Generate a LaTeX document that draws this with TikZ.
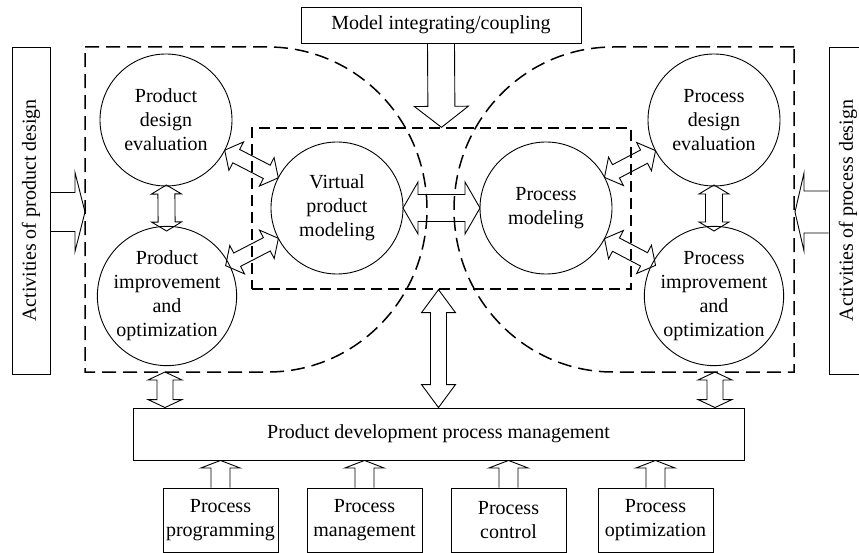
\documentclass[tikz,border=0pt]{standalone}
\usepackage{fontspec}
\setmainfont{Liberation Serif}
\usetikzlibrary{calc}
% fat double arrow: #1 tip A, #2 tip B, #3 shaft half width, #4 head half width, #5 head length
\newcommand{\fatdbl}[5]{%
 \draw[fatline] (#1)
  -- ($(#1)!#5!(#2)!#4!90:(#2)$)
  -- ($(#1)!#5!(#2)!#3!90:(#2)$)
  -- ($(#2)!#5!(#1)!#3!-90:(#1)$)
  -- ($(#2)!#5!(#1)!#4!-90:(#1)$)
  -- (#2)
  -- ($(#2)!#5!(#1)!#4!90:(#1)$)
  -- ($(#2)!#5!(#1)!#3!90:(#1)$)
  -- ($(#1)!#5!(#2)!#3!-90:(#2)$)
  -- ($(#1)!#5!(#2)!#4!-90:(#2)$)
  -- cycle;}
% fat single arrow: #1 base, #2 tip
\newcommand{\fatone}[5]{%
 \draw[fatline] ($(#1)!#3!90:(#2)$)
  -- ($(#2)!#5!(#1)!#3!-90:(#1)$)
  -- ($(#2)!#5!(#1)!#4!-90:(#1)$)
  -- (#2)
  -- ($(#2)!#5!(#1)!#4!90:(#1)$)
  -- ($(#2)!#5!(#1)!#3!90:(#1)$)
  -- ($(#1)!#3!-90:(#2)$);}
\tikzset{
 txt/.style={font=\fontsize{20pt}{24pt}\selectfont},
 boxn/.style={txt, draw, line width=0.9pt, inner sep=0pt, align=center},
 circn/.style={txt, draw, circle, line width=0.9pt, minimum size=132pt, inner sep=0pt, align=center},
 fatline/.style={draw, line width=0.9pt, line join=miter},
 outerdash/.style={line width=1.5pt, dash pattern=on 14pt off 7pt},
 innerdash/.style={draw, line width=1.3pt, dash pattern=on 11pt off 6pt}
}
\begin{document}
\begin{tikzpicture}[x=1pt, y=-1pt]
\useasboundingbox (0,0) rectangle (859,553);

% outer dashed regions
\draw[outerdash] (85,47) -- (268,47)
  .. controls (355.8,47) and (427,119.8) .. (427,209.5)
  .. controls (427,299.2) and (355.8,372) .. (268,372)
  -- (85,372) -- cycle;
\draw[outerdash] (794,47) -- (613,47)
  .. controls (525.2,47) and (454,119.8) .. (454,209.5)
  .. controls (454,299.2) and (525.2,372) .. (613,372)
  -- (794,372) -- cycle;

% inner dashed rectangle
\node[innerdash, minimum width=379pt, minimum height=161pt, inner sep=0pt] (inner) at (441.5,208.5) {};

% circles
\node[circn] (pde) at (166,120) {Product\\design\\evaluation};
\node[circn] (pim) at (167,296) {Product\\improvement\\and\\optimization};
\node[circn] (vpm) at (337,208) {Virtual\\product\\modeling};
\node[circn] (prm) at (546,208) {Process\\modeling};
\node[circn] (cde) at (714,120) {Process\\design\\evaluation};
\node[circn] (cim) at (714,296) {Process\\improvement\\and\\optimization};

% boxes
\node[boxn, minimum width=280pt, minimum height=36pt] (model) at (441,25) {Model integrating/coupling};
\node[boxn, minimum width=38pt, minimum height=327pt] (actl) at (31,210.5) {};
\node[txt, rotate=90, inner sep=0pt] (actltxt) at (actl) {Activities of product design};
\node[boxn, minimum width=38pt, minimum height=327pt] (actr) at (848,210.5) {};
\node[txt, rotate=90, inner sep=0pt] (actrtxt) at (actr) {Activities of process design};
\node[boxn, minimum width=611pt, minimum height=52pt] (pdm) at (438.5,434) {Product development process management};
\node[boxn, minimum width=115pt, minimum height=64pt] (pp) at (220.5,520) {Process\\programming};
\node[boxn, minimum width=115pt, minimum height=64pt] (pmg) at (364.5,520) {Process\\management};
\node[boxn, minimum width=115pt, minimum height=64pt] (pc) at (508.5,520) {Process\\control};
\node[boxn, minimum width=115pt, minimum height=64pt] (po) at (655.5,520) {Process\\optimization};

% connector end points
\coordinate (leftedge) at (85,212);
\coordinate (rightedge) at (795,212);
\coordinate (lsbot) at (165,372);
\coordinate (rsbot) at (715,372);
\coordinate (a1) at ($(pde)!66pt!(vpm)$);
\coordinate (b1) at ($(vpm)!66pt!(pde)$);
\coordinate (a2) at ($(pim)!66pt!(vpm)$);
\coordinate (b2) at ($(vpm)!66pt!(pim)$);
\coordinate (a3) at ($(prm)!66pt!(cde)$);
\coordinate (b3) at ($(cde)!66pt!(prm)$);
\coordinate (a4) at ($(prm)!66pt!(cim)$);
\coordinate (b4) at ($(cim)!66pt!(prm)$);
\coordinate (a5) at ($(vpm)!66pt!(prm)$);
\coordinate (b5) at ($(prm)!66pt!(vpm)$);
\coordinate (a6) at ($(pde)!65pt!(pim)$);
\coordinate (b6) at ($(pim)!65pt!(pde)$);
\coordinate (a7) at ($(cde)!65pt!(cim)$);
\coordinate (b7) at ($(cim)!65pt!(cde)$);
\coordinate (lsin) at (actl.east |- leftedge);
\coordinate (rsin) at (actr.west |- rightedge);
\coordinate (lpdm) at (lsbot |- pdm.north);
\coordinate (rpdm) at (rsbot |- pdm.north);
\coordinate (cin) at (inner.south -| pdm.north);

% arrows
\fatone{model.south}{inner.north}{13.5pt}{27pt}{21pt}
\fatone{lsin}{leftedge}{19.5pt}{39.5pt}{10pt}
\fatone{rsin}{rightedge}{21pt}{39pt}{9pt}
\fatdbl{a1}{b1}{7.5pt}{16pt}{13pt}
\fatdbl{a2}{b2}{7.5pt}{16pt}{13pt}
\fatdbl{a3}{b3}{7.5pt}{16pt}{13pt}
\fatdbl{a4}{b4}{7.5pt}{16pt}{13pt}
\fatdbl{a5}{b5}{13.5pt}{26pt}{15pt}
\fatdbl{a6}{b6}{8.5pt}{15pt}{9pt}
\fatdbl{a7}{b7}{8.5pt}{15pt}{9pt}
\fatdbl{lsbot}{lpdm}{8pt}{17pt}{8pt}
\fatdbl{rsbot}{rpdm}{8pt}{17pt}{8pt}
\fatdbl{cin}{pdm.north}{8pt}{17pt}{23pt}
\fatone{pp.north}{pp.north |- pdm.south}{9.5pt}{19.5pt}{7.5pt}
\fatone{pmg.north}{pmg.north |- pdm.south}{9.5pt}{19.5pt}{7.5pt}
\fatone{pc.north}{pc.north |- pdm.south}{9.5pt}{19.5pt}{7.5pt}
\fatone{po.north}{po.north |- pdm.south}{9.5pt}{19.5pt}{7.5pt}
\end{tikzpicture}
\end{document}
